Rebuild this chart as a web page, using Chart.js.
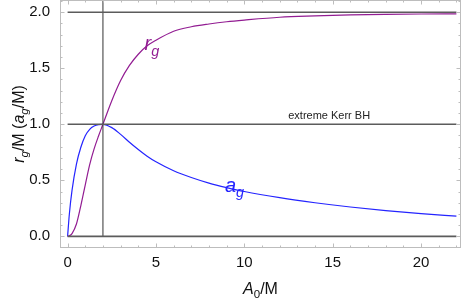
<!DOCTYPE html>
<html>
<head>
<meta charset="utf-8">
<script src="https://cdn.jsdelivr.net/npm/chart.js@4/dist/chart.umd.min.js"></script>
<style>
	html, body { margin: 0; padding: 0; background: #fff; }
	canvas { display: block; }
</style>
</head>
<body>
<canvas id="kerrChart" width="463" height="302"></canvas>
<script>
// A0/M sample points, shared by both curves
const a0Values = [0, 0.1, 0.25, 0.5, 0.75, 1, 1.25, 1.5, 1.75, 2, 2.5, 3, 3.5, 4, 4.5, 5, 6, 7, 8, 9, 10, 12, 14, 16, 18, 20, 22];
// r_g/M (purple)
const rgValues = [0, 0.005, 0.025, 0.11, 0.275, 0.46, 0.64, 0.78, 0.895, 1.0, 1.21, 1.39, 1.525, 1.625, 1.70, 1.75, 1.83, 1.87, 1.895, 1.915, 1.93, 1.955, 1.967, 1.976, 1.981, 1.984, 1.986];
// a_g/M (blue)
const agValues = [0, 0.2, 0.41, 0.645, 0.795, 0.898, 0.955, 0.984, 0.997, 1.0, 0.97, 0.91, 0.84, 0.775, 0.715, 0.665, 0.585, 0.525, 0.475, 0.435, 0.40, 0.345, 0.30, 0.262, 0.23, 0.203, 0.18];

const refLevels = [0, 1, 2];
const refRange = [0, 22];
const markerA0 = 2;

const xTicks = [0, 5, 10, 15, 20];
const yTicks = [0, 0.5, 1.0, 1.5, 2.0];

const FONT = '"Liberation Sans", Arial, sans-serif';
const PURPLE = '#921c92';
const BLUE = '#2424ff';

const toPoints = (xs, ys) => xs.map((x, i) => ({ x, y: ys[i] }));

const datasets = [];
refLevels.forEach((lvl) => {
	datasets.push({
		data: refRange.map((x) => ({ x, y: lvl })),
		borderColor: '#5c5c5c',
		borderWidth: 1.6,
		pointRadius: 0,
	});
});
datasets.push({
	data: [{ x: markerA0, y: 0 }, { x: markerA0, y: 2.5 }],
	borderColor: '#333',
	borderWidth: 1,
	pointRadius: 0,
});
datasets.push({
	data: toPoints(a0Values, rgValues),
	borderColor: PURPLE,
	borderWidth: 1.2,
	pointRadius: 0,
	cubicInterpolationMode: 'monotone',
});
datasets.push({
	data: toPoints(a0Values, agValues),
	borderColor: BLUE,
	borderWidth: 1.2,
	pointRadius: 0,
	cubicInterpolationMode: 'monotone',
});

// draw a run of text pieces (italic / subscript) starting at x
function drawRich(ctx, parts, x, y, size, color, align) {
	const fontFor = (p) => `${p.italic ? 'italic ' : ''}${p.sub ? size * 0.72 : size}px ${FONT}`;
	let total = 0;
	parts.forEach((p) => {
		ctx.font = fontFor(p);
		total += ctx.measureText(p.t).width;
	});
	let cx = align === 'center' ? x - total / 2 : x;
	ctx.fillStyle = color;
	ctx.textBaseline = 'alphabetic';
	ctx.textAlign = 'left';
	parts.forEach((p) => {
		ctx.font = fontFor(p);
		ctx.fillText(p.t, cx, p.sub ? y + size * 0.28 : y);
		cx += ctx.measureText(p.t).width;
	});
}

const framePlugin = {
	id: 'frame',
	afterDraw(chart) {
		const { ctx, chartArea: a, scales } = chart;
		const xs = scales.x;
		const ys = scales.y;
		ctx.save();
		ctx.strokeStyle = '#bdbdbd';
		ctx.lineWidth = 1;
		ctx.strokeRect(a.left + 0.5, a.top + 0.5, a.right - a.left - 1, a.bottom - a.top - 1);

		// inward frame ticks
		ctx.beginPath();
		for (let i = 0; i <= 22; i++) {
			const px = Math.round(xs.getPixelForValue(i)) + 0.5;
			const len = i % 5 === 0 ? 4.5 : 2.5;
			ctx.moveTo(px, a.bottom);
			ctx.lineTo(px, a.bottom - len);
			ctx.moveTo(px, a.top);
			ctx.lineTo(px, a.top + len);
		}
		for (let j = 0; j <= 21; j++) {
			const v = j / 10;
			const py = Math.round(ys.getPixelForValue(v)) + 0.5;
			const len = j % 5 === 0 ? 4.5 : 2.5;
			ctx.moveTo(a.left, py);
			ctx.lineTo(a.left + len, py);
			ctx.moveTo(a.right, py);
			ctx.lineTo(a.right - len, py);
		}
		ctx.stroke();

		// axis titles
		drawRich(ctx, [
			{ t: 'A', italic: true },
			{ t: '0', sub: true },
			{ t: '/M' },
		], (a.left + a.right) / 2, 294, 16, '#111', 'center');

		ctx.save();
		ctx.translate(24, (a.top + a.bottom) / 2);
		ctx.rotate(-Math.PI / 2);
		drawRich(ctx, [
			{ t: 'r', italic: true },
			{ t: 'g', italic: true, sub: true },
			{ t: '/M (' },
			{ t: 'a', italic: true },
			{ t: 'g', italic: true, sub: true },
			{ t: '/M)' },
		], 0, 0, 16, '#111', 'center');
		ctx.restore();

		// curve labels
		drawRich(ctx, [
			{ t: 'r', italic: true },
			{ t: 'g', italic: true, sub: true },
		], xs.getPixelForValue(4.35), ys.getPixelForValue(1.66), 20, PURPLE, 'left');
		drawRich(ctx, [
			{ t: 'a', italic: true },
			{ t: 'g', italic: true, sub: true },
		], xs.getPixelForValue(8.9), ys.getPixelForValue(0.4), 20, BLUE, 'left');

		ctx.font = `11px ${FONT}`;
		ctx.fillStyle = '#222';
		ctx.textAlign = 'center';
		ctx.fillText('extreme Kerr BH', xs.getPixelForValue(14.8), ys.getPixelForValue(1.05));
		ctx.restore();
	},
};

new Chart(document.getElementById('kerrChart'), {
	type: 'line',
	data: { datasets },
	options: {
		responsive: false,
		animation: false,
		devicePixelRatio: 1,
		layout: { padding: { top: 0, right: 2, left: 0, bottom: 0 } },
		plugins: {
			legend: { display: false },
			tooltip: { enabled: false },
		},
		scales: {
			x: {
				type: 'linear',
				min: -0.43,
				max: 22.26,
				afterBuildTicks: (scale) => { scale.ticks = xTicks.map((value) => ({ value })); },
				afterFit: (scale) => {
					scale.height = 54;
					scale.paddingLeft = 0;
					scale.paddingRight = 0;
				},
				grid: { display: false, drawTicks: false },
				border: { display: false },
				ticks: {
					padding: 6,
					maxRotation: 0,
					color: '#111',
					font: { family: FONT, size: 15 },
				},
			},
			y: {
				type: 'linear',
				min: -0.104,
				max: 2.109,
				afterBuildTicks: (scale) => { scale.ticks = yTicks.map((value) => ({ value })); },
				afterFit: (scale) => {
					scale.width = 60;
					scale.paddingTop = 0;
					scale.paddingBottom = 0;
				},
				grid: { display: false, drawTicks: false },
				border: { display: false },
				ticks: {
					padding: 10,
					color: '#111',
					font: { family: FONT, size: 15 },
					callback: (v) => Number(v).toFixed(1),
				},
			},
		},
	},
	plugins: [framePlugin],
});
</script>
</body>
</html>
